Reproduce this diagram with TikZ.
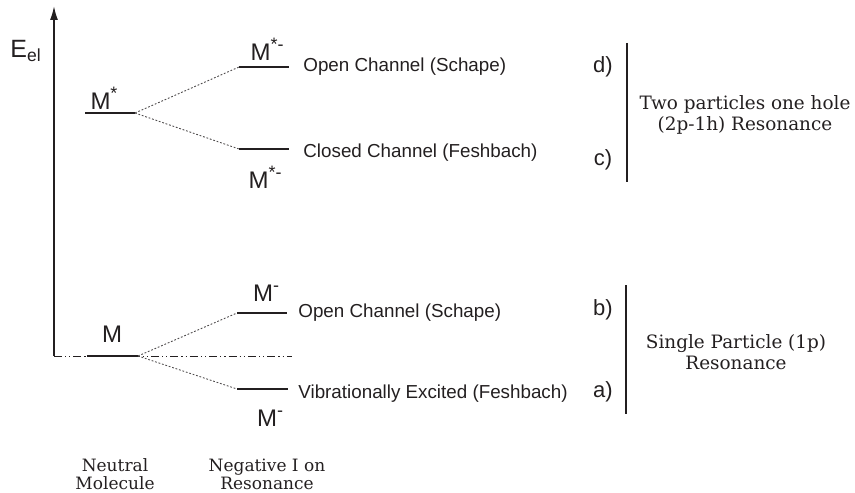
\documentclass[tikz,border=0pt]{standalone}
\usepackage{fontspec}
\setsansfont{Liberation Sans}
\newfontfamily\grpfont{DejaVu Serif}
\usetikzlibrary{arrows.meta}
\definecolor{ink}{HTML}{231F20}
\newcommand{\sups}[1]{\raisebox{0.42em}{\fontsize{9}{9}\selectfont #1}}

\begin{document}
\begin{tikzpicture}[x=0.5pt,y=-0.5pt,
  lvl/.style={draw=ink, line width=1.2pt},
  lnk/.style={draw=ink!80, line width=0.45pt, dash pattern=on 0.9pt off 0.9pt},
  chan/.style={font=\sffamily\fontsize{9.4}{11}\selectfont, text=ink, anchor=west, inner sep=0pt},
  spec/.style={font=\sffamily\fontsize{12}{14}\selectfont, text=ink, inner sep=0pt},
  tag/.style={font=\sffamily\fontsize{11}{13}\selectfont, text=ink, inner sep=0pt},
  grp/.style={font=\grpfont\fontsize{9.2}{10.2}\selectfont, text=ink, align=center, inner sep=0pt},
  foot/.style={font=\grpfont\fontsize{8.5}{9}\selectfont, text=ink, align=center, inner sep=0pt}]
\useasboundingbox (0,0) rectangle (855,492);

% energy axis
\coordinate (orig) at (54,356);
\coordinate (top) at (54,6);
\coordinate (base) at (292,356);
\draw[ink, line width=0.8pt, -{Latex[length=7pt,width=4pt]}] (orig) -- (top);
\draw[ink, line width=0.5pt, dash pattern=on 4pt off 1.5pt on 0.6pt off 1.5pt on 0.6pt off 1.5pt] (orig) -- (base);
\node[spec, font=\sffamily\fontsize{12.5}{14}\selectfont] (eel) at (26,51) {E\textsubscript{el}};

% neutral molecule levels
\coordinate (m0a) at (87,356);   \coordinate (m0b) at (138,356);
\coordinate (ms0a) at (85,113);  \coordinate (ms0b) at (135,113);
\draw[lvl] (m0a) -- (m0b);
\draw[lvl] (ms0a) -- (ms0b);
\node[spec] (lm0) at (112,334) {M};
\node[spec] (lms0) at (104,98) {M\sups{*}};

% negative ion levels
\coordinate (mms1a) at (239,67);  \coordinate (mms1b) at (289,67);
\coordinate (mms2a) at (239,149); \coordinate (mms2b) at (289,149);
\coordinate (mm1a) at (237,313);  \coordinate (mm1b) at (287,313);
\coordinate (mm2a) at (237,389);  \coordinate (mm2b) at (288,389);
\draw[lvl] (mms1a) -- (mms1b);
\draw[lvl] (mms2a) -- (mms2b);
\draw[lvl] (mm1a) -- (mm1b);
\draw[lvl] (mm2a) -- (mm2b);
\node[spec] (lmms1) at (267,49) {M\sups{*-}};
\node[spec] (lmms2) at (265,177) {M\sups{*-}};
\node[spec] (lmm1) at (266,293) {M\sups{-}};
\node[spec] (lmm2) at (270,418) {M\sups{-}};

% dotted links
\draw[lnk] (ms0b) -- (mms1a);
\draw[lnk] (ms0b) -- (mms2a);
\draw[lnk] (m0b) -- (mm1a);
\draw[lnk] (m0b) -- (mm2a);

% channels
\node[chan] (ch4) at (303,67) {Open Channel (Schape)};
\node[chan] (ch3) at (303,153) {Closed Channel (Feshbach)};
\node[chan] (ch2) at (298,313) {Open Channel (Schape)};
\node[chan] (ch1) at (298,394) {Vibrationally Excited (Feshbach)};

% letters and brackets
\node[tag] (td) at (603,67) {d)};
\node[tag] (tc) at (603,160) {c)};
\node[tag] (tb) at (603,310) {b)};
\node[tag] (ta) at (603,392) {a)};
\coordinate (bar2a) at (627,43);  \coordinate (bar2b) at (627,182);
\coordinate (bar1a) at (626,285); \coordinate (bar1b) at (626,414);
\draw[ink, line width=1.1pt] (bar2a) -- (bar2b);
\draw[ink, line width=1.1pt] (bar1a) -- (bar1b);
\node[grp] (g2) at (745,115) {Two particles one hole\\(2p-1h) Resonance};
\node[grp] (g1) at (736,352) {Single Particle (1p)\\Resonance};

% column captions
\node[foot] (neu) at (115,474) {Neutral\\Molecule};
\node[foot] (neg) at (267,474) {Negative I on\\Resonance};
\end{tikzpicture}
\end{document}
